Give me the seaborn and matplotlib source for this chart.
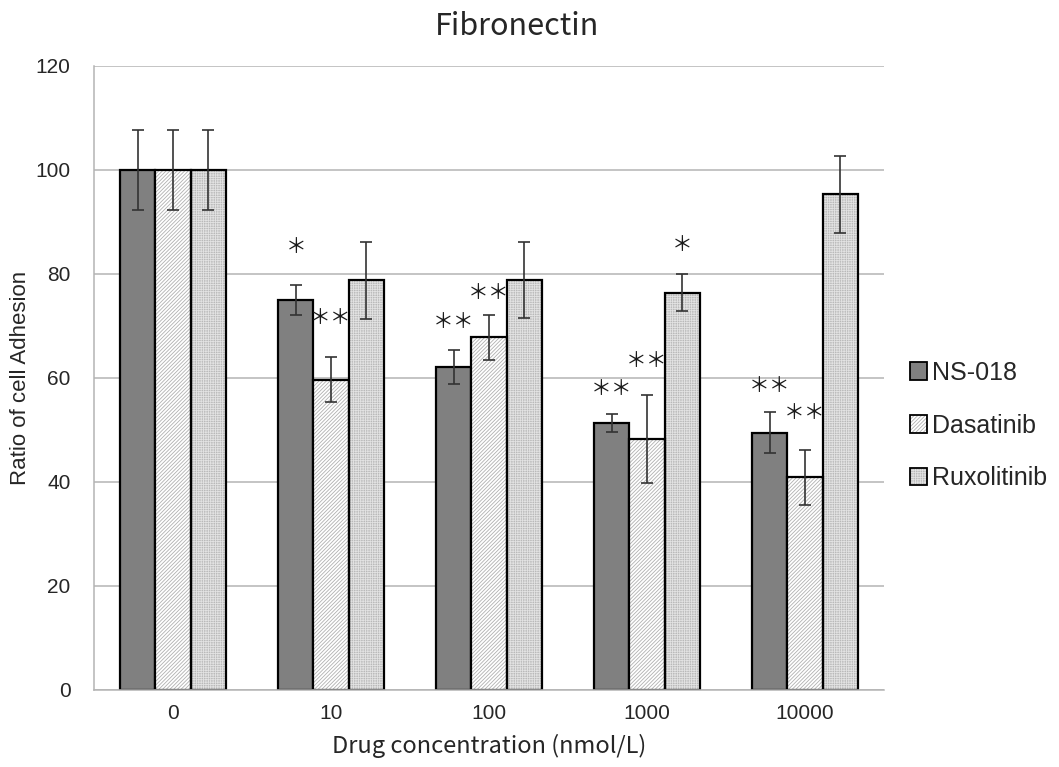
import matplotlib
matplotlib.use("Agg")
import matplotlib.pyplot as plt
import numpy as np
import pandas as pd
import seaborn as sns
from matplotlib.patches import Rectangle
from matplotlib.legend_handler import HandlerTuple

concentrations = ["0", "10", "100", "1000", "10000"]
drugs = ["NS-018", "Dasatinib", "Ruxolitinib"]
ns018 = [100, 75.0, 62.1, 51.3, 49.5]
dasatinib = [100, 59.7, 67.8, 48.3, 40.9]
ruxolitinib = [100, 78.8, 78.9, 76.4, 95.3]
ns018_err = [7.7, 2.9, 3.3, 1.7, 4.0]
dasatinib_err = [7.7, 4.3, 4.3, 8.4, 5.3]
ruxolitinib_err = [7.7, 7.4, 7.3, 3.5, 7.4]

# significance marks: (concentration, drug, text, height)
marks_conc = ["10", "10", "100", "100", "1000", "1000", "1000", "10000", "10000"]
marks_drug = ["NS-018", "Dasatinib", "NS-018", "Dasatinib", "NS-018", "Dasatinib",
              "Ruxolitinib", "NS-018", "Dasatinib"]
marks_text = ["*", "**", "**", "**", "**", "**", "*", "**", "**"]
marks_y = [85.2, 71.5, 70.7, 76.3, 57.8, 63.2, 85.5, 58.4, 53.3]

df = pd.DataFrame({
    "conc": concentrations * 3,
    "drug": np.repeat(drugs, len(concentrations)),
    "ratio": ns018 + dasatinib + ruxolitinib,
    "err": ns018_err + dasatinib_err + ruxolitinib_err,
})

sns.set_style("white")
plt.rcParams["font.family"] = ["Liberation Sans", "DejaVu Sans"]
plt.rcParams["hatch.linewidth"] = 0.6

fig = plt.figure(figsize=(10.59, 7.67), dpi=100)
ax = fig.add_axes([0.0888, 0.1004, 0.7460, 0.8136])

sns.barplot(data=df, x="conc", y="ratio", hue="drug", order=concentrations,
            hue_order=drugs, palette=["#808080", "white", "#b9b9b9"],
            errorbar=None, width=0.67, gap=0, saturation=1,
            edgecolor="black", linewidth=1.6, ax=ax, legend=False)

styles = {
    "NS-018": dict(hatch=None, hcolor=None),
    "Dasatinib": dict(hatch="/////////", hcolor="#b0b0b0"),
    "Ruxolitinib": dict(hatch="+++++++", hcolor="#e2e2e2"),
}

centers = {}
for drug, cont in zip(drugs, ax.containers):
    st = styles[drug]
    for conc, bar in zip(concentrations, cont):
        x0, w, h = bar.get_x(), bar.get_width(), bar.get_height()
        centers[(conc, drug)] = x0 + w / 2
        if st["hatch"]:
            bar.set_hatch(st["hatch"])
            bar.set_edgecolor(st["hcolor"])
            bar.set_linewidth(0)
            ax.add_patch(Rectangle((x0, 0), w, h, fill=False, edgecolor="black",
                                   linewidth=1.6, zorder=bar.get_zorder() + 0.1))
    sub = df[df["drug"] == drug].set_index("conc").loc[concentrations]
    xs = [centers[(c, drug)] for c in concentrations]
    ax.errorbar(xs, sub["ratio"], yerr=sub["err"], fmt="none", ecolor="#333333",
                elinewidth=1.2, capsize=4, capthick=1.2, zorder=5)

for conc, drug, txt, y in zip(marks_conc, marks_drug, marks_text, marks_y):
    label = "＊＊" if txt == "**" else "＊"
    ax.text(centers[(conc, drug)], y, label, ha="center", va="center",
            fontsize=15, family=["Noto Sans CJK JP", "DejaVu Sans"], color="#1a1a1a")

ax.set_ylim(0, 120)
ax.set_xlim(-0.5, 4.5)
ax.set_yticks(range(0, 121, 20))
ax.yaxis.grid(True, color="#b4b4b4", linewidth=1.1)
ax.set_axisbelow(True)
ax.set_xticks(np.arange(-0.5, 5, 1), minor=True)
ax.tick_params(axis="x", which="major", length=0, labelsize=15, pad=10)
ax.tick_params(axis="x", which="minor", length=7, color="#b4b4b4", width=1.1)
ax.tick_params(axis="y", length=6, color="#b4b4b4", width=1.1, labelsize=15, pad=11)
for side in ["top", "right"]:
    ax.spines[side].set_visible(False)
for side in ["left", "bottom"]:
    ax.spines[side].set_color("#b4b4b4")
    ax.spines[side].set_linewidth(1.1)

ax.set_ylabel("Ratio of cell Adhesion", fontsize=16,
              family=["Liberation Sans Narrow", "Liberation Sans"], labelpad=3)
ax.set_xlabel("Drug concentration (nmol/L)", fontsize=17,
              family=["Noto Sans CJK JP", "DejaVu Sans"], labelpad=8)
ax.set_title("Fibronectin", fontsize=22, family=["Noto Sans CJK JP", "DejaVu Sans"],
             pad=22, x=0.535)

handles = []
for drug, cont in zip(drugs, ax.containers):
    st = styles[drug]
    fill = Rectangle((0, 0), 1, 1, facecolor=cont[0].get_facecolor(),
                     edgecolor=st["hcolor"] or "black", linewidth=0, hatch=st["hatch"])
    edge = Rectangle((0, 0), 1, 1, fill=False, edgecolor="black", linewidth=1.3)
    handles.append((fill, edge))
fig.legend(handles, drugs, loc="center left", bbox_to_anchor=(0.859, 0.445),
           frameon=False, fontsize=18, handlelength=0.7, handleheight=0.7,
           handletextpad=0.2, labelspacing=1.15, borderpad=0, borderaxespad=0,
           handler_map={tuple: HandlerTuple(ndivide=1)})

fig.savefig("out.png", dpi=100)
